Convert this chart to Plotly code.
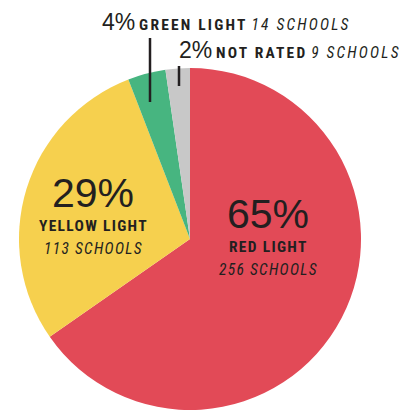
import plotly.graph_objects as go

categories = ["RED LIGHT", "YELLOW LIGHT", "GREEN LIGHT", "NOT RATED"]
schools = [256, 113, 14, 9]
colors = ["#E24A57", "#F6D04E", "#47B580", "#C8C8C8"]

W, H = 409, 410
total = sum(schools)
pcts = [round(100 * v / total) for v in schools]

fig = go.Figure(go.Pie(
    labels=categories, values=schools, sort=False, direction="clockwise",
    rotation=0, marker=dict(colors=colors, line=dict(width=0)),
    textinfo="none", hoverinfo="none",
    domain=dict(x=[18 / W, 362 / W], y=[0, 1 - 68 / H]),
    showlegend=False,
))

TXT = "#231f20"
BIG = "font-family:'Liberation Sans';font-weight:normal"

def bold(ls):
    return f"font-family:'Roboto Condensed','Roboto';font-weight:bold;letter-spacing:{ls}px"

def ital(ls):
    return f"font-family:'Roboto Condensed','Roboto';font-style:italic;letter-spacing:{ls}px"

def px(x, y):
    return x / W, 1 - y / H

ann = []
# inside labels
for i, (cx, cy0) in enumerate([(268, 214), (93, 193)]):
    x, y = px(cx, cy0)
    ann.append(dict(x=x, y=y, text=f"{pcts[i]}%", font=dict(family="Liberation Sans", size=41, color=TXT)))
    x, y = px(cx, cy0 + 33)
    ann.append(dict(x=x, y=y, text=f"<span style=\"{bold(1.3)}\">{categories[i]}</span>",
                    font=dict(family="Roboto", size=15.5, color=TXT)))
    x, y = px(cx, cy0 + 56)
    ann.append(dict(x=x, y=y, text=f"<span style=\"{ital(1.3)}\">{schools[i]} SCHOOLS</span>",
                    font=dict(family="Roboto", size=15.5, color=TXT)))

# outside labels
for i, (lx, ly) in zip([2, 3], [(100, 22), (177, 50)]):
    x, y = px(lx, ly)
    txt = (f"<span style=\"{BIG};font-size:23px\">{pcts[i]}%</span> "
           f"<span style=\"{bold(2.2)}\">{categories[i]}</span> "
           f"<span style=\"{ital(2.2)}\">{schools[i]} SCHOOLS</span>")
    ann.append(dict(x=x, y=y, text=txt, xanchor="left",
                    font=dict(family="Roboto", size=15.5, color=TXT)))

for a in ann:
    a.setdefault("xanchor", "center")
    a.update(xref="paper", yref="paper", yanchor="middle", showarrow=False)

shapes = []
for (x0, y0, y1) in [(150, 38, 102), (179, 66, 86)]:
    xa, ya = px(x0, y0)
    _, yb = px(x0, y1)
    shapes.append(dict(type="line", xref="paper", yref="paper", x0=xa, x1=xa, y0=ya, y1=yb,
                       line=dict(color=TXT, width=2.5)))

fig.update_layout(width=W, height=H, margin=dict(l=0, r=0, t=0, b=0),
                  paper_bgcolor="white", plot_bgcolor="white",
                  annotations=ann, shapes=shapes)
fig.write_html("out.html")
